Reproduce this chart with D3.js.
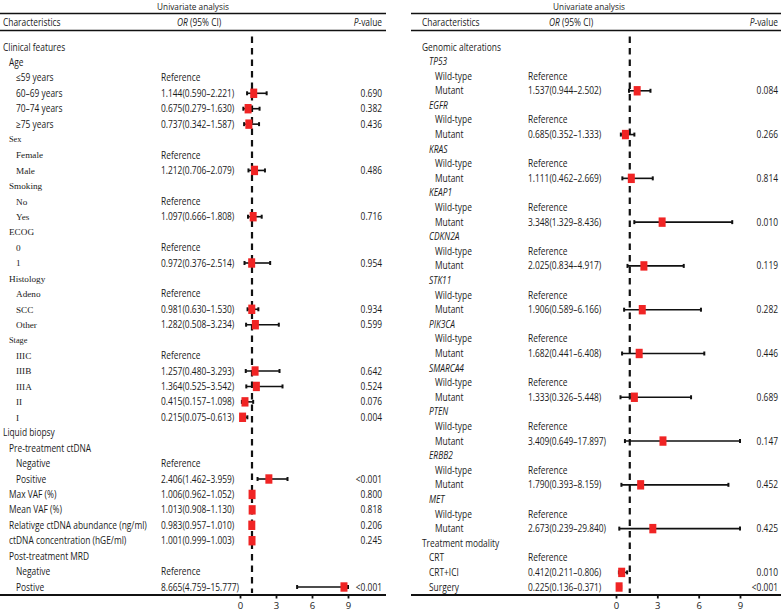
<!DOCTYPE html>
<html>
<head>
<meta charset="utf-8">
<script src="https://cdn.jsdelivr.net/npm/d3@7"></script>
<style>
  html, body { margin: 0; padding: 0; background: #fff; }
  svg { display: block; }
</style>
</head>
<body>
<svg id="chart" width="784" height="612"></svg>
<script>
// ---------------- DATA ----------------
// Left panel: clinical features & liquid biopsy
const leftLabels = [
  "Clinical features", "Age", "≤59 years", "60–69 years", "70–74 years", "≥75 years",
  "Sex", "Female", "Male", "Smoking", "No", "Yes", "ECOG", "0", "1",
  "Histology", "Adeno", "SCC", "Other", "Stage", "IIIC", "IIIB", "IIIA", "II", "I",
  "Liquid biopsy", "Pre-treatment ctDNA", "Negative", "Positive",
  "Max VAF (%)", "Mean VAF (%)", "Relativge ctDNA abundance (ng/ml)", "ctDNA concentration (hGE/ml)",
  "Post-treatment MRD", "Negative", "Postive"
];
const leftLevels = [0,1,2,2,2,2, 1,2,2,1,2,2,1,2,2, 1,2,2,2,1,2,2,2,2,2, 0,1,2,2, 1,1,1,1, 1,2,2];
// "ref" = Reference row, null = heading row
const leftOR = [null,null,"ref",1.144,0.675,0.737, null,"ref",1.212,null,"ref",1.097,null,"ref",0.972,
  null,"ref",0.981,1.282,null,"ref",1.257,1.364,0.415,0.215,
  null,null,"ref",2.406, 1.006,1.013,0.983,1.001, null,"ref",8.665];
const leftLo = [null,null,null,0.590,0.279,0.342, null,null,0.706,null,null,0.666,null,null,0.376,
  null,null,0.630,0.508,null,null,0.480,0.525,0.157,0.075,
  null,null,null,1.462, 0.962,0.908,0.957,0.999, null,null,4.759];
const leftHi = [null,null,null,2.221,1.630,1.587, null,null,2.079,null,null,1.808,null,null,2.514,
  null,null,1.530,3.234,null,null,3.293,3.542,1.098,0.613,
  null,null,null,3.959, 1.052,1.130,1.010,1.003, null,null,15.777];
const leftP = ["","","","0.690","0.382","0.436", "","","0.486","","","0.716","","","0.954",
  "","","0.934","0.599","","","0.642","0.524","0.076","0.004",
  "","","","<0.001", "0.800","0.818","0.206","0.245", "","","<0.001"];

// Right panel: genomic alterations & treatment modality
const rightLabels = [
  "Genomic alterations",
  "TP53", "Wild-type", "Mutant",
  "EGFR", "Wild-type", "Mutant",
  "KRAS", "Wild-type", "Mutant",
  "KEAP1", "Wild-type", "Mutant",
  "CDKN2A", "Wild-type", "Mutant",
  "STK11", "Wild-type", "Mutant",
  "PIK3CA", "Wild-type", "Mutant",
  "SMARCA4", "Wild-type", "Mutant",
  "PTEN", "Wild-type", "Mutant",
  "ERBB2", "Wild-type", "Mutant",
  "MET", "Wild-type", "Mutant",
  "Treatment modality", "CRT", "CRT+ICI", "Surgery"
];
const rightLevels = [0, 1,2,2, 1,2,2, 1,2,2, 1,2,2, 1,2,2, 1,2,2, 1,2,2, 1,2,2, 1,2,2, 1,2,2, 1,2,2, 0,1,1,1];
const rightGenes = ["TP53","EGFR","KRAS","KEAP1","CDKN2A","STK11","PIK3CA","SMARCA4","PTEN","ERBB2","MET"];
const rightOR = [null, null,"ref",1.537, null,"ref",0.685, null,"ref",1.111, null,"ref",3.348,
  null,"ref",2.025, null,"ref",1.906, null,"ref",1.682, null,"ref",1.333, null,"ref",3.409,
  null,"ref",1.790, null,"ref",2.673, null,"ref",0.412,0.225];
const rightLo = [null, null,null,0.944, null,null,0.352, null,null,0.462, null,null,1.329,
  null,null,0.834, null,null,0.589, null,null,0.441, null,null,0.326, null,null,0.649,
  null,null,0.393, null,null,0.239, null,null,0.211,0.136];
const rightHi = [null, null,null,2.502, null,null,1.333, null,null,2.669, null,null,8.436,
  null,null,4.917, null,null,6.166, null,null,6.408, null,null,5.448, null,null,17.897,
  null,null,8.159, null,null,29.840, null,null,0.806,0.371];
const rightP = ["", "","","0.084", "","","0.266", "","","0.814", "","","0.010",
  "","","0.119", "","","0.282", "","","0.446", "","","0.689", "","","0.147",
  "","","0.452", "","","0.425", "","","0.010","<0.001"];

const axisTicks = [0, 3, 6, 9];
const refValue = 1;
const panelTitle = "Univariate analysis";

// ---------------- DRAWING ----------------
const svg = d3.select("#chart");
const SANS = "'Open Sans', 'Noto Sans', sans-serif";
const SERIF = "'Liberation Serif', 'DejaVu Serif', serif";
const SX = 0.84; // horizontal condensing of the sans text
const RED = "#f02424";
const INK = "#111";

// labels drawn in serif in the original figure
const serifLeft = new Set([6,7,8,9,10,11,12,13,14,15,16,17,18,19,20,21,22,23,24]);

function addText(g, x, y, anchor, opts = {}) {
  const sx = opts.serif ? 1 : SX;
  const t = g.append("text")
    .attr("transform", `translate(${x},${y}) scale(${sx},1)`)
    .attr("text-anchor", anchor)
    .attr("dy", "0.35em")
    .attr("font-family", opts.serif ? SERIF : SANS)
    .attr("font-size", opts.size || 10)
    .attr("fill", "#1a1a1a");
  if (opts.italic) t.attr("font-style", "italic");
  return t;
}

function fmt(v) { return v.toFixed(3); }

function drawPanel(cfg) {
  const g = svg.append("g");
  const n = cfg.labels.length;
  const y = d3.scalePoint().domain(d3.range(n)).range([cfg.yTop, cfg.yBottom]);
  const x = d3.scaleLinear().domain([0, 9]).range(cfg.xRange).clamp(true);

  // title and header rules
  addText(g, cfg.titleX, 6.5, "middle", { size: 9.8 }).text(panelTitle);
  g.append("line").attr("x1", cfg.x0).attr("x2", cfg.x1).attr("y1", 13.5).attr("y2", 13.5)
    .attr("stroke", INK).attr("stroke-width", 1.6);
  g.append("line").attr("x1", cfg.x0).attr("x2", cfg.x1).attr("y1", 30.5).attr("y2", 30.5)
    .attr("stroke", INK).attr("stroke-width", 1.6);
  addText(g, cfg.labelX[0], 22, "start").text("Characteristics");
  const orH = addText(g, cfg.orHeadX, 22, "start");
  orH.append("tspan").attr("font-style", "italic").text("OR");
  orH.append("tspan").text(" (95% CI)");
  const pH = addText(g, cfg.pX, 22, "end");
  pH.append("tspan").attr("font-style", "italic").text("P");
  pH.append("tspan").text("-value");

  // reference dashed line
  g.append("line")
    .attr("x1", x(refValue)).attr("x2", x(refValue))
    .attr("y1", 36.5).attr("y2", cfg.axisY - 2)
    .attr("stroke", INK).attr("stroke-width", 2.2)
    .attr("stroke-dasharray", "6.5,5");

  // rows
  for (let i = 0; i < n; i++) {
    const lvl = cfg.levels[i];
    const yy = y(i);
    const serif = cfg.serif && cfg.serif.has(i);
    let size = 10;
    if (serif) size = (cfg.labels[i] === "Sex" || cfg.labels[i] === "Stage") ? 8.3 : 9.2;
    addText(g, cfg.labelX[lvl], yy, "start", {
      serif: serif, size: size,
      italic: cfg.italicSet && cfg.italicSet.has(cfg.labels[i]) && lvl === 1
    }).text(cfg.labels[i]);

    const or = cfg.or[i];
    if (or === "ref") {
      addText(g, cfg.orX, yy, "start").text("Reference");
    } else if (or !== null) {
      const lo = cfg.lo[i], hi = cfg.hi[i];
      addText(g, cfg.orX, yy, "start").text(`${fmt(or)}(${fmt(lo)}–${fmt(hi)})`);
      addText(g, cfg.pX, yy, "end").text(cfg.p[i]);
      // CI whisker
      g.append("line").attr("x1", x(lo)).attr("x2", x(hi)).attr("y1", yy).attr("y2", yy)
        .attr("stroke", INK).attr("stroke-width", 1.6);
      [lo, hi].forEach(v => {
        g.append("line").attr("x1", x(v)).attr("x2", x(v)).attr("y1", yy - 2).attr("y2", yy + 2)
          .attr("stroke", INK).attr("stroke-width", 2);
      });
      // point estimate marker
      g.append("rect").attr("x", x(or) - 3.5).attr("y", yy - 4.7)
        .attr("width", 7).attr("height", 9.4)
        .attr("fill", RED);
    }
  }

  // x axis
  g.append("line").attr("x1", cfg.x0).attr("x2", cfg.x1).attr("y1", cfg.axisY).attr("y2", cfg.axisY)
    .attr("stroke", INK).attr("stroke-width", 2);
  const ax = g.append("g").attr("transform", `translate(0,${cfg.axisY})`)
    .call(d3.axisBottom(x).tickValues(axisTicks).tickSize(3.5).tickPadding(4).tickFormat(d3.format("d")));
  ax.select(".domain").remove();
  ax.selectAll(".tick line").attr("stroke", INK).attr("stroke-width", 1.8);
  ax.selectAll(".tick text").attr("font-family", SANS).attr("font-size", 9.5).attr("fill", "#1a1a1a");
}

drawPanel({
  labels: leftLabels, levels: leftLevels, or: leftOR, lo: leftLo, hi: leftHi, p: leftP,
  yTop: 47, yBottom: 587, xRange: [240, 348], x0: 0, x1: 386, titleX: 193,
  labelX: [3, 9, 16], orX: 161, orHeadX: 177, pX: 382, axisY: 595,
  serif: serifLeft
});

drawPanel({
  labels: rightLabels, levels: rightLevels, or: rightOR, lo: rightLo, hi: rightHi, p: rightP,
  yTop: 47, yBottom: 587, xRange: [616, 740], x0: 411, x1: 781, titleX: 589,
  labelX: [422, 429, 435], orX: 528, orHeadX: 549, pX: 778, axisY: 595,
  italicSet: new Set(rightGenes)
});
</script>
</body>
</html>
